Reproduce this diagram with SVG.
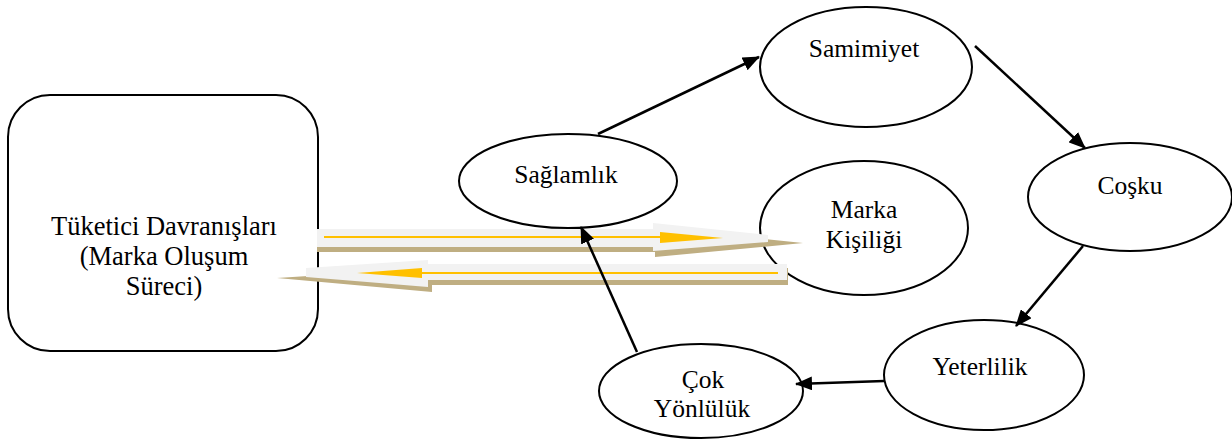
<svg xmlns="http://www.w3.org/2000/svg" width="1232" height="439" viewBox="0 0 1232 439">
<defs>
<style>
.node{fill:#fff;stroke:#000;stroke-width:2}
.t{font-family:"Liberation Serif","Times New Roman",serif;font-size:25.5px;fill:#000;text-anchor:middle}
.big{font-size:26.5px}
.edge{stroke:#000;stroke-width:2.5;fill:none;marker-end:url(#ah)}
.shadow{fill:#BFAE82}
.body{fill:#F2F2F2}
.gold{fill:#FFC000}
</style>
<marker id="ah" markerUnits="userSpaceOnUse" markerWidth="17" markerHeight="14" refX="16" refY="7" orient="auto">
<path d="M0,0 L17,7 L0,14 z" fill="#000"/>
</marker>
</defs>
<rect width="1232" height="439" fill="#fff"/>
<g id="node-tuketici">
<rect class="node" x="8" y="95" width="310" height="256" rx="42" ry="42"/>
<text class="t big" x="164" y="235">Tüketici Davranışları</text>
<text class="t big" x="164" y="265">(Marka Oluşum</text>
<text class="t big" x="164" y="295">Süreci)</text>
</g>
<g id="node-saglamlik">
<ellipse class="node" cx="568" cy="181" rx="109" ry="47"/>
<text class="t" x="566" y="183">Sağlamlık</text>
</g>
<g id="node-samimiyet">
<ellipse class="node" cx="866" cy="67" rx="106" ry="60"/>
<text class="t" x="864" y="57">Samimiyet</text>
</g>
<g id="node-marka">
<ellipse class="node" cx="864" cy="228" rx="104" ry="67"/>
<text class="t" x="864" y="218">Marka</text>
<text class="t" x="864" y="248">Kişiliği</text>
</g>
<g id="node-cosku">
<ellipse class="node" cx="1130" cy="197" rx="102" ry="54"/>
<text class="t" x="1130" y="194">Coşku</text>
</g>
<g id="node-yeterlilik">
<ellipse class="node" cx="984" cy="375" rx="100" ry="55"/>
<text class="t" x="980" y="375">Yeterlilik</text>
</g>
<g id="node-cok">
<ellipse class="node" cx="701" cy="391" rx="102" ry="47"/>
<text class="t" x="703" y="388">Çok</text>
<text class="t" x="702" y="417">Yönlülük</text>
</g>
<g id="block-arrows">
<path class="shadow" d="M317,232 L655,232 L655,228 L803,243 L655,257 L655,252 L317,252 z"/>
<path class="body" d="M317,229 L653,229 L653,223 L768,235 L768,242 L653,251 L653,247 L317,247 z"/>
<rect class="gold" x="324" y="236" width="340" height="2"/>
<path class="gold" d="M660,232 L723,238 L660,243 z"/>
<path class="shadow" d="M788,268 L788,285 L432,285 L432,292 L277,278 L432,268 z"/>
<path class="body" d="M787,264 L787,280 L428,280 L428,287 L306,277 L306,268 L428,260 L428,264 z"/>
<rect class="gold" x="420" y="272" width="358" height="2"/>
<path class="gold" d="M422,268 L357,273 L422,278 z"/>
</g>
<g id="connectors">
<line class="edge" x1="598" y1="134" x2="759" y2="57"/>
<line class="edge" x1="975" y1="46" x2="1085" y2="148"/>
<line class="edge" x1="1083" y1="246" x2="1016" y2="326"/>
<line class="edge" x1="884" y1="381" x2="796" y2="384"/>
<line class="edge" x1="637" y1="352" x2="581" y2="227"/>
</g>
</svg>
